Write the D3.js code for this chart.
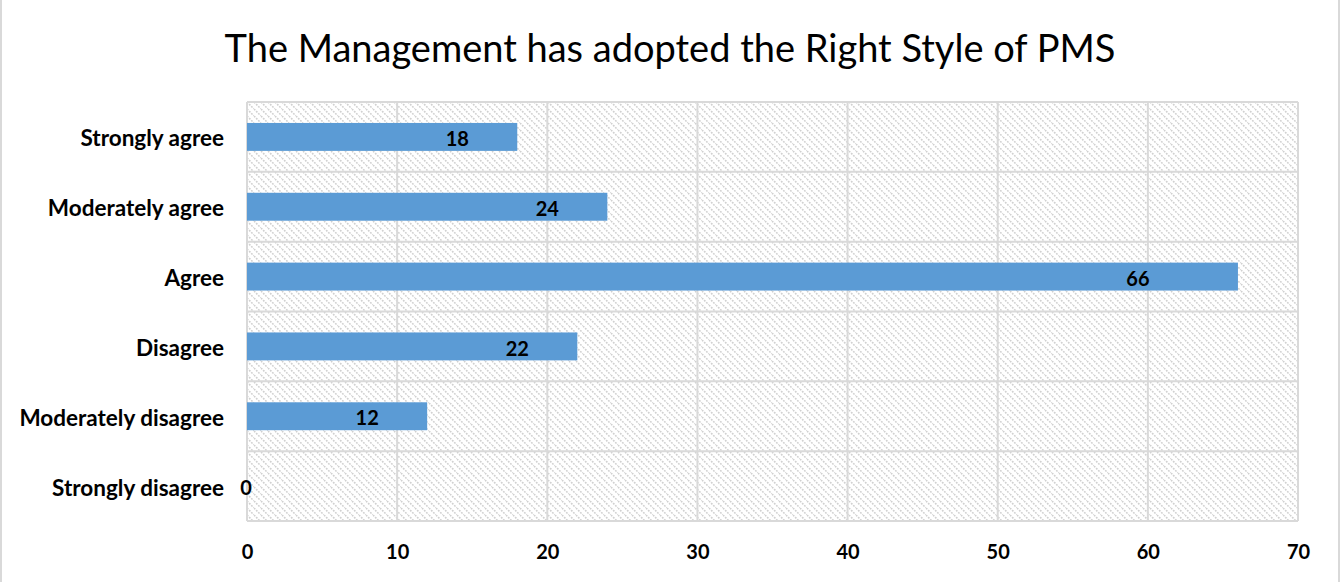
<!DOCTYPE html>
<html>
<head>
<meta charset="utf-8">
<script src="https://cdn.jsdelivr.net/npm/d3@7"></script>
<style>
  body { margin: 0; background: #fff; }
  text { font-family: Lato, "Open Sans", sans-serif; }
</style>
</head>
<body>
<svg id="chart" width="1340" height="582"></svg>
<script>
var categories = ["Strongly agree", "Moderately agree", "Agree", "Disagree", "Moderately disagree", "Strongly disagree"];
var values = [18, 24, 66, 22, 12, 0];
var xTicks = [0, 10, 20, 30, 40, 50, 60, 70];
var title = "The Management has adopted the Right Style of PMS";

var margin = {left: 247, top: 102, right: 42, bottom: 61};
var width = 1340 - margin.left - margin.right;
var height = 582 - margin.top - margin.bottom;

var svg = d3.select("#chart");

// outer chart border
svg.append("rect")
  .attr("x", 1).attr("y", -2).attr("width", 1338).attr("height", 590)
  .attr("fill", "none").attr("stroke", "#d9d9d9").attr("stroke-width", 2);

// hatch pattern for the plot area
var pat = svg.append("defs").append("pattern")
  .attr("id", "hatch").attr("patternUnits", "userSpaceOnUse")
  .attr("width", 7).attr("height", 7);
pat.append("path").attr("d", "M0,0 L7,7 M-3.5,3.5 L0,7 M3.5,-3.5 L7,0")
  .attr("stroke", "#d0d0d0").attr("stroke-width", 1.6)
  .attr("stroke-dasharray", "1.8,1.2");

svg.append("text")
  .attr("x", 670).attr("y", 62)
  .attr("text-anchor", "middle")
  .attr("font-size", 38)
  .attr("fill", "#000")
  .text(title);

var x = d3.scaleLinear().domain([0, 70]).range([0, width]);
var y = d3.scaleBand().domain(categories).range([0, height]).paddingInner(0.6).paddingOuter(0.3);

var g = svg.append("g").attr("transform", "translate(" + margin.left + "," + margin.top + ")");

g.append("rect").attr("width", width).attr("height", height).attr("fill", "url(#hatch)");

// grid lines
g.selectAll(".vgrid").data(xTicks).enter().append("line")
  .attr("x1", function(d) { return x(d); }).attr("x2", function(d) { return x(d); })
  .attr("y1", 0).attr("y2", height)
  .attr("stroke", "#d9d9d9").attr("stroke-width", 2);

var bounds = d3.range(categories.length + 1).map(function(i) { return i * y.step(); });
g.selectAll(".hgrid").data(bounds).enter().append("line")
  .attr("x1", 0).attr("x2", width)
  .attr("y1", function(d) { return d; }).attr("y2", function(d) { return d; })
  .attr("stroke", "#d9d9d9").attr("stroke-width", 2);

// bars
g.selectAll(".bar").data(values).enter().append("rect")
  .attr("x", 0)
  .attr("y", function(d, i) { return y(categories[i]); })
  .attr("width", function(d) { return x(d); })
  .attr("height", y.bandwidth())
  .attr("fill", "#5b9bd5");

// data labels
g.selectAll(".lbl").data(values).enter().append("text")
  .attr("x", function(d) { return d === 0 ? x(0) - 1 : x(d) - (d > 50 ? 100 : 60); })
  .attr("y", function(d, i) { return y(categories[i]) + y.bandwidth() / 2 + 2; })
  .attr("dy", "0.36em")
  .attr("text-anchor", "middle")
  .attr("font-size", 20).attr("font-weight", "bold")
  .text(function(d) { return d; });

// axes
var yAxis = g.append("g").call(d3.axisLeft(y).tickSize(0).tickPadding(23));
yAxis.select(".domain").remove();
yAxis.selectAll("text").attr("font-size", 22.5).attr("font-weight", "bold").attr("fill", "#000")
  .attr("dy", "0.42em")
  .style("font-family", "Lato, sans-serif");

var xAxis = g.append("g").attr("transform", "translate(0," + height + ")")
  .call(d3.axisBottom(x).tickValues(xTicks).tickSize(0).tickPadding(24));
xAxis.select(".domain").remove();
xAxis.selectAll("text").attr("font-size", 20).attr("font-weight", "bold").attr("fill", "#000")
  .style("font-family", "Lato, sans-serif");
</script>
</body>
</html>
